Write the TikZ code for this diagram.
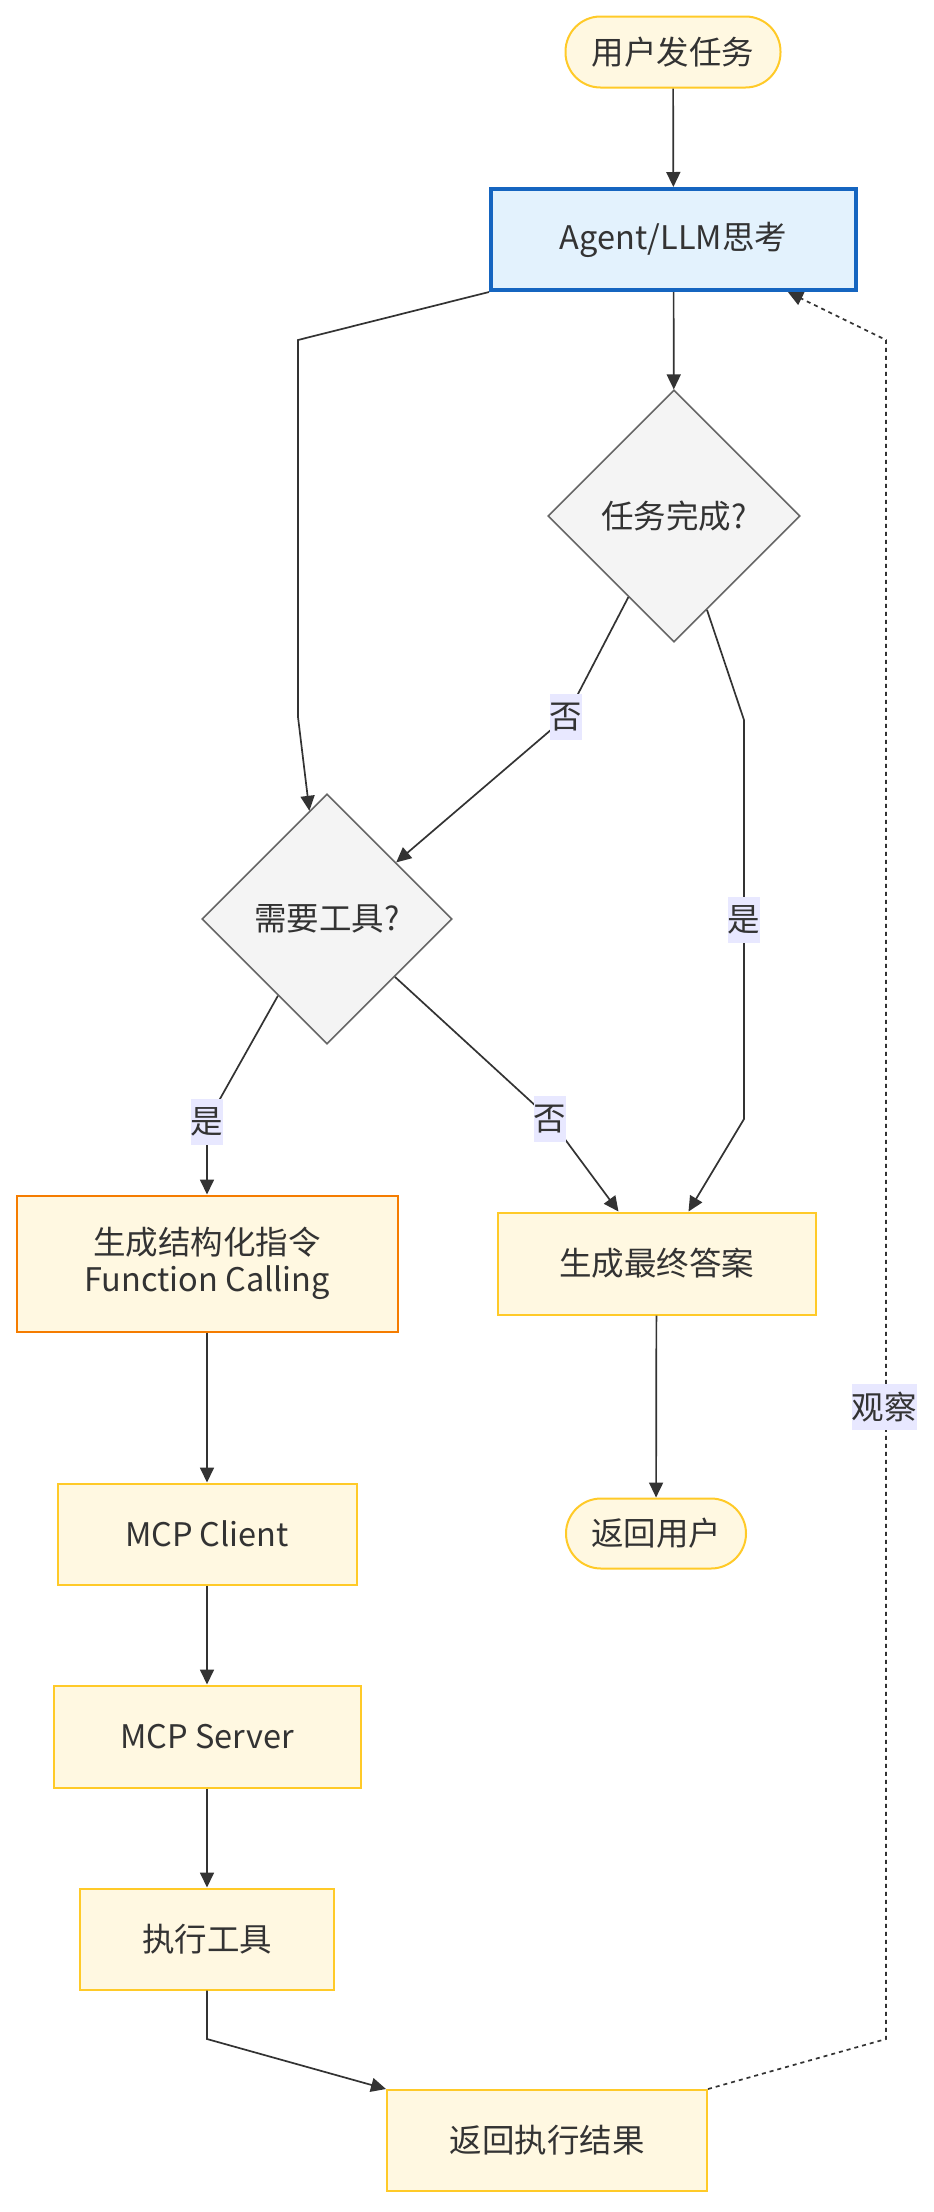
\documentclass[tikz,border=0pt]{standalone}
\usepackage{fontspec}
\setmainfont{Noto Sans CJK SC}
\usetikzlibrary{shapes.geometric,arrows.meta,calc}
\definecolor{txt}{HTML}{333333}
\definecolor{yfill}{HTML}{FFF8E1}
\definecolor{yline}{HTML}{FFCA28}
\definecolor{oline}{HTML}{F57C00}
\definecolor{bfill}{HTML}{E3F2FD}
\definecolor{bline}{HTML}{1565C0}
\definecolor{dfill}{HTML}{F4F4F4}
\definecolor{dline}{HTML}{666666}
\definecolor{lblbg}{HTML}{E8E8FF}
\definecolor{edge}{HTML}{333333}
\begin{document}
\begin{tikzpicture}[x=1pt,y=-1pt,
  base/.style={inner sep=0pt, text=txt, font=\fontsize{32.5}{37}\selectfont, align=center},
  ybox/.style={base, rectangle, draw=yline, fill=yfill, line width=2pt},
  fcbox/.style={base, rectangle, draw=oline, fill=yfill, line width=2pt},
  agentbox/.style={base, rectangle, draw=bline, fill=bfill, line width=4pt},
  term/.style={base, rectangle, draw=yline, fill=yfill, line width=2pt, rounded corners=35pt},
  dec/.style={base, diamond, aspect=1, draw=dline, fill=dfill, line width=1.6pt},
  lbl/.style={base, fill=lblbg, minimum height=46pt, minimum width=30pt},
  conn/.style={draw=edge, line width=1.7pt, -{Triangle[length=15pt,width=14pt]}},
  dconn/.style={draw=edge, line width=1.7pt, dash pattern=on 4pt off 4pt, -{Triangle[length=15pt,width=14pt]}}
]
\useasboundingbox (0,0) rectangle (934,2212);
\fill[white] (0,0) rectangle (934,2212);

% nodes
\node[term, minimum width=215pt, minimum height=71pt] (start) at (673,52) {用户发任务};
\node[agentbox, minimum width=365pt, minimum height=101pt] (agent) at (673.5,239.5) {Agent/LLM思考};
\node[dec, minimum width=252pt, minimum height=252pt] (done) at (674,516) {任务完成?};
\node[dec, minimum width=250pt, minimum height=250pt] (need) at (327,919) {需要工具?};
\node[fcbox, minimum width=381pt, minimum height=136pt] (fc) at (207,1263.5) {生成结构化指令\\Function Calling};
\node[ybox, minimum width=318pt, minimum height=102pt] (final) at (656.5,1263.5) {生成最终答案};
\node[ybox, minimum width=299pt, minimum height=101pt] (client) at (207,1534) {MCP Client};
\node[term, minimum width=180pt, minimum height=70pt] (ret) at (656,1533.5) {返回用户};
\node[ybox, minimum width=307pt, minimum height=102pt] (server) at (207,1736.5) {MCP Server};
\node[ybox, minimum width=254pt, minimum height=101pt] (exec) at (207,1939) {执行工具};
\node[ybox, minimum width=320pt, minimum height=101pt] (res) at (547,2140.5) {返回执行结果};

% bend coordinates
\coordinate (a1) at (298,340);
\coordinate (a2) at (298,717);
\coordinate (n1) at (566,717);
\coordinate (y1) at (744,720);
\coordinate (y2) at (744,1119);
\coordinate (t1) at (207,1122);
\coordinate (f1) at (550,1119);
\coordinate (e1) at (207,2039);
\coordinate (o1) at (886,2039);
\coordinate (o2) at (886,340);

% connectors
\draw[conn] (start) -- (agent);
\draw[conn] (agent) -- (done);
\draw[conn] (agent.south west) -- (a1) -- (a2) -- ($(need.north)!0.14!(need.west)$);
\draw[conn] ($(done.south)!0.36!(done.west)$) -- (n1) -- ($(need.north)!0.55!(need.east)$);
\draw[conn] ($(done.south)!0.26!(done.east)$) -- (y1) -- (y2) -- ($(final.north)+(32,0)$);
\draw[conn] ($(need.south)!0.39!(need.west)$) -- (t1) -- (fc.north);
\draw[conn] ($(need.south)!0.54!(need.east)$) -- (f1) -- ($(final.north)+(-38,0)$);
\draw[conn] (fc) -- (client);
\draw[conn] (final) -- (ret);
\draw[conn] (client) -- (server);
\draw[conn] (server) -- (exec);
\draw[conn] (exec.south) -- (e1) -- (res.north west);
\draw[dconn] (res.north east) -- (o1) -- (o2) -- ($(agent.south)!0.62!(agent.south east)$);

% edge labels
\node[lbl] (l1) at (n1) {否};
\node[lbl] (l2) at ($(y1)!0.5!(y2)$) {是};
\node[lbl] (l3) at (t1) {是};
\node[lbl] (l4) at (f1) {否};
\node[lbl] (l5) at (884,1407) {观察};
\end{tikzpicture}
\end{document}
